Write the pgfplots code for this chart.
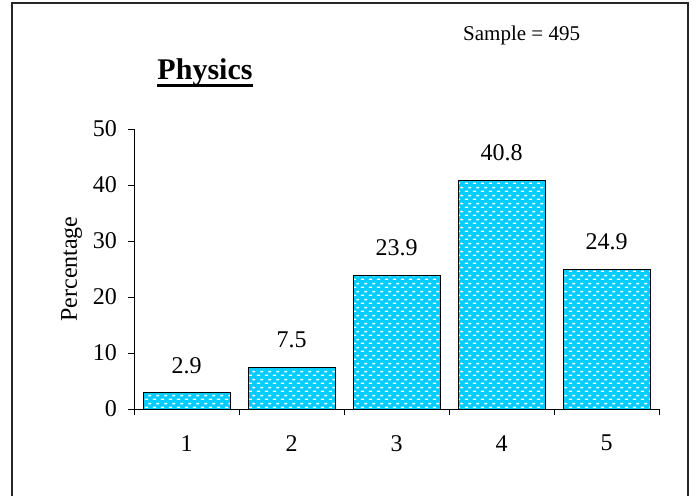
\documentclass[border=0pt]{standalone}
\usepackage{fontspec}
\setmainfont{Liberation Serif}
\usepackage{pgfplots}
\pgfplotsset{compat=1.18}
\usetikzlibrary{patterns}
\definecolor{barcyan}{RGB}{0,204,255}
\pgfdeclarepatternformonly{dashdots}{\pgfpointorigin}{\pgfpoint{8pt}{8pt}}{\pgfpoint{8pt}{8pt}}{%
  \pgfpathrectangle{\pgfpoint{1pt}{1.2pt}}{\pgfpoint{3.5pt}{1.6pt}}%
  \pgfpathrectangle{\pgfpoint{5pt}{5.2pt}}{\pgfpoint{3pt}{1.6pt}}%
  \pgfusepath{fill}}
\begin{document}
\begin{tikzpicture}
\useasboundingbox (0pt,0pt) rectangle (696pt,496pt);
\draw[line width=2pt, color=black!85] (12pt,0pt) -- (12pt,492.5pt) -- (688pt,492.5pt) -- (688pt,0pt);
\begin{axis}[
  at={(134pt,87pt)}, anchor=south west,
  scale only axis, width=525pt, height=280pt,
  xmin=0.5, xmax=5.5, ymin=0, ymax=50,
  axis x line*=bottom, axis y line*=left,
  axis line style={-, line width=0.8pt, black},
  xtick={0.5,1.5,2.5,3.5,4.5,5.5},
  xticklabels={1,2,3,4,5,{}},
  xticklabel style={xshift=52.5pt, anchor=north, inner sep=0pt, yshift=-20pt},
  ytick={0,10,20,30,40,50},
  yticklabel style={anchor=east, inner sep=0pt, xshift=-11pt},
  tick align=outside, major tick length=6pt,
  tick style={black, line width=0.8pt},
  /pgf/number format/assume math mode=true,
  tick label style={font=\fontsize{24}{28}\selectfont},
  ylabel={Percentage},
  every axis y label/.style={at={(axis description cs:-0.1086,0.5)}, rotate=90, anchor=base, font=\fontsize{24}{28}\selectfont},
  ybar, bar width=87pt,
  nodes near coords={\pgfmathprintnumber[fixed,fixed zerofill,precision=1]{\pgfplotspointmeta}},
  every node near coord/.append style={font=\fontsize{24}{28}\selectfont, inner sep=0pt, yshift=19pt, black},
  clip=false,
]
\addplot[draw=black, line width=0.8pt, fill=barcyan, postaction={pattern=dashdots, pattern color=white}]
  coordinates {(1,2.9) (2,7.5) (3,23.9) (4,40.8) (5,24.9)};
\end{axis}
\node[anchor=base, inner sep=0pt, font=\fontsize{30}{36}\selectfont\bfseries] (T) at (205pt,416pt) {Physics};
\draw[line width=2.5pt] ([yshift=-5.5pt]T.base west) -- ([yshift=-5.5pt]T.base east);
\node[anchor=base west, inner sep=0pt, font=\fontsize{21}{25}\selectfont] at (463pt,455pt) {Sample = 495};
\end{tikzpicture}
\end{document}
